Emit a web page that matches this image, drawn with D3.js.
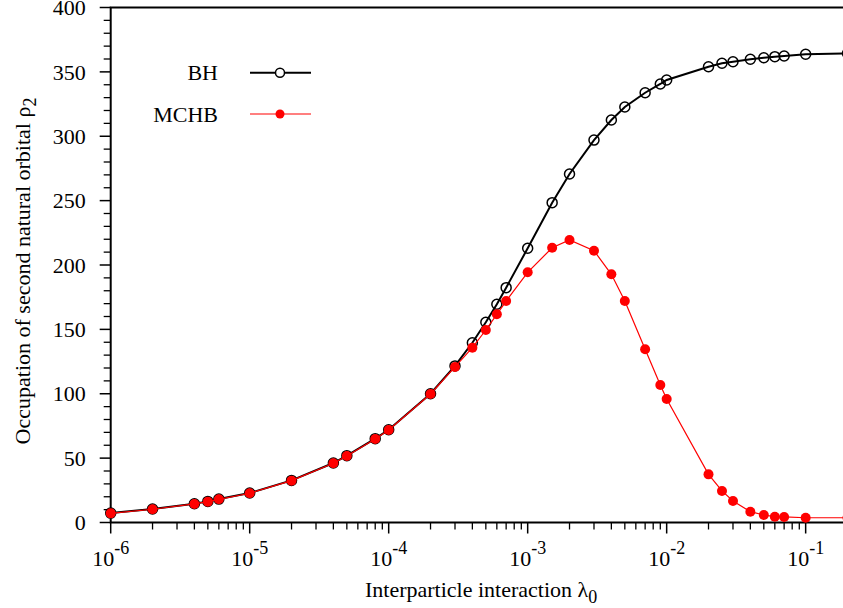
<!DOCTYPE html>
<html>
<head>
<meta charset="utf-8">
<script src="https://cdn.jsdelivr.net/npm/d3@7"></script>
<style>
  body { margin: 0; background: #fff; }
  svg { display: block; font-family: "Liberation Serif", "DejaVu Serif", serif; }
</style>
</head>
<body>
<div class="occupation-chart"></div>
<script>
// Data
const lambdas = [1e-6, 2e-6, 4e-6, 5e-6, 6e-6, 1e-5, 2e-5, 4e-5, 5e-5, 8e-5,
  1e-4, 2e-4, 3e-4, 4e-4, 5e-4, 6e-4, 7e-4, 1e-3, 1.5e-3, 2e-3, 3e-3, 4e-3,
  5e-3, 7e-3, 9e-3, 1e-2, 2e-2, 2.5e-2, 3e-2, 4e-2, 5e-2, 6e-2, 7e-2, 1e-1, 2e-1];
const bhValues = [7.3, 10.5, 14.6, 16.4, 18.2, 22.9, 32.7, 46.2, 51.9, 65.1,
  72.0, 100.0, 121.6, 139.6, 155.5, 169.5, 182.4, 213.0, 248.4, 270.7, 297.0, 312.6,
  322.7, 333.8, 340.6, 343.7, 354.0, 356.7, 357.9, 359.8, 361.0, 361.8, 362.3, 363.7, 364.4];
const mchbValues = [7.1, 10.3, 14.4, 16.2, 18.0, 22.7, 32.5, 46.0, 51.7, 64.9,
  71.8, 99.8, 120.8, 135.8, 149.5, 161.7, 172.0, 194.3, 213.4, 219.4, 211.1, 192.8,
  172.0, 134.5, 106.8, 95.9, 37.4, 24.5, 16.7, 8.4, 5.8, 4.5, 4.3, 3.7, 3.7];
const seriesNames = ['BH', 'MCHB'];
const xTickExponents = [-6, -5, -4, -3, -2, -1];
const yTicks = [0, 50, 100, 150, 200, 250, 300, 350, 400];

// Setup
const width = 843, height = 608;
const plotLeft = 110.7, plotRight = 847.5, plotTop = 7.5, plotBottom = 522.5;

const svg = d3.select('.occupation-chart')
  .append('svg')
  .attr('width', width)
  .attr('height', height);

const x = d3.scaleLog().domain([1e-6, 2e-1]).range([plotLeft, plotRight]);
const y = d3.scaleLinear().domain([0, 400]).range([plotBottom, plotTop]);

const bh = lambdas.map((l, i) => ({ x: l, y: bhValues[i] }));
const mchb = lambdas.map((l, i) => ({ x: l, y: mchbValues[i] }));

// Axes
const minorX = [];
xTickExponents.forEach(e => {
  for (let m = 2; m <= 9; m++) {
    const v = m * Math.pow(10, e);
    if (v <= 2e-1) minorX.push(v);
  }
});
const minorY = d3.range(0, 401, 10).filter(v => v % 50 !== 0);

const axes = svg.append('g').attr('class', 'axes');

axes.selectAll('.x-major')
  .data(xTickExponents.map(e => Math.pow(10, e)))
  .enter().append('line')
  .attr('x1', d => x(d)).attr('x2', d => x(d))
  .attr('y1', plotBottom).attr('y2', plotBottom + 11)
  .attr('stroke', '#000').attr('stroke-width', 1.5);

axes.selectAll('.x-minor')
  .data(minorX)
  .enter().append('line')
  .attr('x1', d => x(d)).attr('x2', d => x(d))
  .attr('y1', plotBottom).attr('y2', plotBottom + 7)
  .attr('stroke', '#000').attr('stroke-width', 1.3);

axes.selectAll('.y-major')
  .data(yTicks)
  .enter().append('line')
  .attr('x1', plotLeft - 11).attr('x2', plotLeft)
  .attr('y1', d => y(d)).attr('y2', d => y(d))
  .attr('stroke', '#000').attr('stroke-width', 1.5);

axes.selectAll('.y-minor')
  .data(minorY)
  .enter().append('line')
  .attr('x1', plotLeft - 7).attr('x2', plotLeft)
  .attr('y1', d => y(d)).attr('y2', d => y(d))
  .attr('stroke', '#000').attr('stroke-width', 1.3);

// frame
axes.append('path')
  .attr('d', `M${plotRight},${plotTop}H${plotLeft}V${plotBottom}H${plotRight}`)
  .attr('fill', 'none')
  .attr('stroke', '#000')
  .attr('stroke-width', 2);

axes.selectAll('.y-label')
  .data(yTicks)
  .enter().append('text')
  .attr('x', plotLeft - 25)
  .attr('y', d => y(d))
  .attr('dy', '0.35em')
  .attr('text-anchor', 'end')
  .attr('font-size', 22)
  .text(d => d);

const xLabels = axes.selectAll('.x-label')
  .data(xTickExponents)
  .enter().append('text')
  .attr('x', e => x(Math.pow(10, e)))
  .attr('y', 566)
  .attr('text-anchor', 'middle')
  .attr('font-size', 22);
xLabels.append('tspan').text('10');
xLabels.append('tspan').attr('dy', -12).attr('font-size', 18).text(e => String(e));

// Titles
const xTitle = svg.append('text')
  .attr('x', (plotLeft + plotRight) / 2 + 2)
  .attr('y', 597)
  .attr('text-anchor', 'middle')
  .attr('font-size', 22);
xTitle.append('tspan').text('Interparticle interaction λ');
xTitle.append('tspan').attr('dy', 6).attr('font-size', 18).text('0');

const yTitle = svg.append('text')
  .attr('transform', `translate(30,${(plotTop + plotBottom) / 2 + 6}) rotate(-90)`)
  .attr('text-anchor', 'middle')
  .attr('font-size', 22);
yTitle.append('tspan').text('Occupation of second natural orbital ρ');
yTitle.append('tspan').attr('dy', 6).attr('font-size', 18).text('2');

// Series
const line = d3.line().x(d => x(d.x)).y(d => y(d.y));

const plot = svg.append('g').attr('class', 'series');

plot.append('path')
  .datum(bh)
  .attr('d', line)
  .attr('fill', 'none')
  .attr('stroke', '#000')
  .attr('stroke-width', 2);

plot.selectAll('.bh-point')
  .data(bh)
  .enter().append('circle')
  .attr('cx', d => x(d.x))
  .attr('cy', d => y(d.y))
  .attr('r', 5)
  .attr('fill', 'none')
  .attr('stroke', '#000')
  .attr('stroke-width', 1.5);

plot.append('path')
  .datum(mchb)
  .attr('d', line)
  .attr('fill', 'none')
  .attr('stroke', '#ff0000')
  .attr('stroke-width', 1.2);

plot.selectAll('.mchb-point')
  .data(mchb)
  .enter().append('circle')
  .attr('cx', d => x(d.x))
  .attr('cy', d => y(d.y))
  .attr('r', 5)
  .attr('fill', '#ff0000');

// Legend
const legend = svg.append('g').attr('class', 'legend');
const legendRows = [
  { name: seriesNames[0], ly: 72.7, color: '#000', width: 2, filled: false },
  { name: seriesNames[1], ly: 114, color: '#ff0000', width: 1.2, filled: true }
];

legendRows.forEach(r => {
  legend.append('text')
    .attr('x', 218)
    .attr('y', r.ly)
    .attr('dy', '0.35em')
    .attr('text-anchor', 'end')
    .attr('font-size', 22)
    .text(r.name);
  legend.append('line')
    .attr('x1', 250).attr('x2', 311)
    .attr('y1', r.ly).attr('y2', r.ly)
    .attr('stroke', r.color)
    .attr('stroke-width', r.width);
  legend.append('circle')
    .attr('cx', 280)
    .attr('cy', r.ly)
    .attr('r', 4.5)
    .attr('fill', r.filled ? r.color : '#fff')
    .attr('stroke', r.filled ? 'none' : r.color)
    .attr('stroke-width', 1.5);
});
</script>
</body>
</html>
